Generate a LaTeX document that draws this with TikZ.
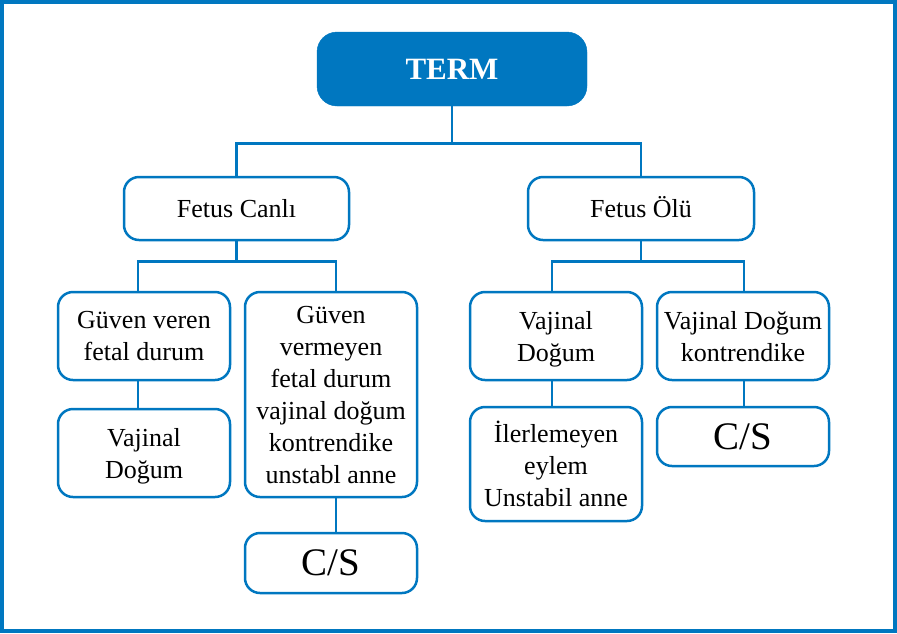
\documentclass[tikz,border=0pt]{standalone}
\usepackage{fontspec}
\setmainfont{Liberation Serif}
\usepackage{tikz}

\definecolor{tblue}{RGB}{0,119,192}

\begin{document}
\begin{tikzpicture}[x=1pt,y=-1pt,
        box/.style={draw=tblue,line width=2.5pt,rounded corners=15pt,align=center,
                    inner sep=0pt,minimum width=172pt,font=\fontsize{26}{32}\selectfont},
        multibox/.style={box,text depth=0pt},
        link/.style={tblue,line width=2.6pt}]
        \useasboundingbox (0,0) rectangle (897,633);
        \draw[tblue,line width=4pt] (2,2) rectangle (895,631);

        \node (Term)      at (452,69)   [fill=tblue,draw=tblue,rounded corners=20pt,minimum width=270pt,minimum height=74pt,
                                         text=white,font=\fontsize{31}{36}\selectfont\bfseries] {TERM};
        \node (Fcanli)    at (236.5,208.5) [box,minimum width=225pt,minimum height=63pt,text height=18pt] {Fetus Canlı};
        \node (Folu)      at (641,208.5)   [box,minimum width=226pt,minimum height=63pt,text height=18pt] {Fetus Ölü};

        \node (Gveren)    at (144,336)   [multibox,minimum height=88pt] {Güven veren\\fetal durum};
        \node (Gvermeyen) at (331,394.5) [multibox,minimum height=205pt] {Güven\\vermeyen\\fetal durum\\vajinal doğum\\kontrendike\\unstabl anne};
        \node (LVajinal)  at (144,453)   [multibox,minimum height=88pt] {Vajinal\\Doğum};
        \node (LCs)       at (331,563)   [box,minimum height=60pt,font=\fontsize{39}{40}\selectfont] {C/S};

        \node (RVajinal)  at (556,336)   [multibox,minimum height=88pt] {Vajinal\\Doğum};
        \node (RKontr)    at (743,336)   [multibox,minimum height=88pt] {Vajinal Doğum\\kontrendike};
        \node (Ilerle)    at (556,464)   [multibox,minimum height=114pt] {İlerlemeyen\\eylem\\Unstabil anne};
        \node (RCs)       at (743,436.5) [box,minimum height=59pt,font=\fontsize{39}{40}\selectfont] {C/S};

        \draw[link] (Term.south) -- ++(0,37) coordinate (Tjoin);
        \draw[link] (Tjoin) -| (Fcanli.north);
        \draw[link] (Tjoin) -| (Folu.north);

        \draw[link] (Fcanli.south) -- ++(0,20) coordinate (Cjoin);
        \draw[link] (Cjoin) -| ([xshift=-6pt]Gveren.north);
        \draw[link] (Cjoin) -| ([xshift=5pt]Gvermeyen.north);
        \draw[link] ([xshift=-6pt]Gveren.south) -- ([xshift=-6pt]LVajinal.north);
        \draw[link] ([xshift=5pt]Gvermeyen.south) -- ([xshift=5pt]LCs.north);

        \draw[link] (Folu.south) -- ++(0,20) coordinate (Ojoin);
        \draw[link] (Ojoin) -| ([xshift=-4pt]RVajinal.north);
        \draw[link] (Ojoin) -| ([xshift=1pt]RKontr.north);
        \draw[link] ([xshift=-4pt]RVajinal.south) -- ([xshift=-4pt]Ilerle.north);
        \draw[link] ([xshift=1pt]RKontr.south) -- ([xshift=1pt]RCs.north);
\end{tikzpicture}
\end{document}
